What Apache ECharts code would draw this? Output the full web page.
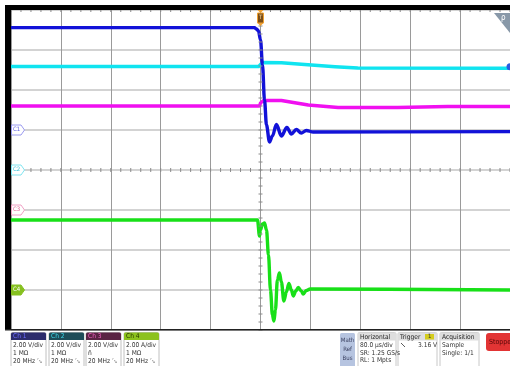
<!DOCTYPE html>
<html><head><meta charset="utf-8">
<script src="https://cdn.jsdelivr.net/npm/echarts@6/dist/echarts.min.js"></script>
<style>html,body{margin:0;padding:0;background:#fff;overflow:hidden}#c{width:510px;height:366px}</style>
</head><body><div id="c"></div>
<script>
// ---- data (time in µs, values in V or A) ----
const ch1Time  = [-400, -9.6, -6.4, -3.2, 0, 3.2, 6.4, 9.6, 14.4, 19.1, 25.5, 33.5, 42.3, 49.5, 57.4, 65.4, 73.4, 84.5, 400];
const ch1Volts = [5.12, 5.12, 5.05, 4.95, 4.5, 3.25, 1.5, 0.25, -0.6, -0.3, 0.275, -0.3, 0.125, -0.2, 0.025, -0.15, -0.025, -0.1, -0.08];

const ch2Time  = [-400, -3, 0, 3.2, 33.5, 65.4, 119.6, 156, 400];
const ch2Volts = [5.175, 5.175, 5.1, 5.375, 5.365, 5.285, 5.165, 5.1, 5.085];

const ch3Time  = [-400, -1.6, 0, 4.8, 33.5, 52.6, 76.6, 124.4, 220, 300, 400];
const ch3Volts = [5.2, 5.2, 5.35, 5.475, 5.475, 5.375, 5.25, 5.125, 5.125, 5.175, 5.175];

const ch4Time = [-400, -4.8, -1.6, 0, 3.2, 6.4, 9.6, 12.8, 16.0, 19.1, 21.5, 23.9, 27.1, 30.3, 33.5, 37.5, 41.5, 45.5, 49.5, 52.6, 56.6, 60.6, 65.4, 68.6, 73.4, 79.8, 400];
const ch4Amps = [3.5, 3.5, 2.7, 3.0, 3.3, 3.35, 3.0, 1.75, 0, -1.25, -1.55, -1.0, 0.5, 0.85, 0.4, -0.55, -0.1, 0.325, 0, -0.3, -0.05, 0.125, -0.05, -0.2, -0.025, 0.05, 0];

const channelNames   = ['Ch 1', 'Ch 2', 'Ch 3', 'Ch 4'];
const channelScales  = [2, 2, 2, 2];        // units per division
const channelOffsets = [1, 0, -1, -3];      // ground position, divisions
const channelUnits   = ['V/div', 'V/div', 'V/div', 'A/div'];
const channelImped   = ['1 MΩ', '1 MΩ', 'ñ', '1 MΩ'];
const channelBW      = ['20 MHz ␗', '20 MHz ␗', '20 MHz ␗', '20 MHz ␗'];
const timePerDiv = 80;  // µs
const horizontalText = ['80.0 µs/div', 'SR: 1.25 GS/s', 'RL: 1 Mpts'];
const triggerLevel = '3.16 V';
const acquisitionText = ['Sample', 'Single: 1/1'];

const colors = ['#1212d8', '#10e4f0', '#f010f0', '#18e018'];
const FONT = "'Liberation Sans Narrow','DejaVu Sans Condensed','Liberation Sans',sans-serif";

function toDiv(times, vals, i) {
  return times.map((t, k) => [t, channelOffsets[i] + vals[k] / channelScales[i]]);
}

const chart = echarts.init(document.getElementById('c'), null, {renderer: 'canvas'});
const series = [
  {i: 1, t: ch2Time, v: ch2Volts, sm: 0},
  {i: 2, t: ch3Time, v: ch3Volts, sm: 0},
  {i: 3, t: ch4Time, v: ch4Amps, sm: 0.35},
  {i: 0, t: ch1Time, v: ch1Volts, sm: 0.35}
].map(s => ({
  type: 'line', name: channelNames[s.i], data: toDiv(s.t, s.v, s.i),
  showSymbol: false, symbol: 'none', animation: false,
  smooth: s.sm, smoothMonotone: 'x',
  lineStyle: {color: colors[s.i], width: 3.4, join: 'round'}
}));

chart.setOption({
  animation: false,
  grid: {left: 11, top: 10, width: 502, height: 320},
  xAxis: {type: 'value', min: -5 * timePerDiv, max: 5 * timePerDiv, interval: timePerDiv,
    axisLine: {show: false}, axisTick: {show: false}, axisLabel: {show: false},
    splitLine: {show: true, lineStyle: {color: '#9a9a9a', width: 1}}},
  yAxis: {type: 'value', min: -4, max: 4, interval: 1,
    axisLine: {show: false}, axisTick: {show: false}, axisLabel: {show: false},
    splitLine: {show: true, lineStyle: {color: '#c4c4c4', width: 1.6}}},
  series: series
});

// ---- decorations ----
const px = (t, d) => chart.convertToPixel({gridIndex: 0}, [t, d]);
const g = [];
// minor ticks on centre lines and top edge
for (let k = -25; k <= 25; k++) {
  const p = px(k * timePerDiv / 5, 0);
  g.push({type: 'line', shape: {x1: p[0], y1: p[1] - 2, x2: p[0], y2: p[1] + 2}, style: {stroke: '#8a8a8a', lineWidth: 1}, z: 5});
  const q = px(k * timePerDiv / 5, 4);
  g.push({type: 'line', shape: {x1: q[0], y1: q[1], x2: q[0], y2: q[1] + 2}, style: {stroke: '#8a8a8a', lineWidth: 1}, z: 5});
}
for (let k = -20; k <= 20; k++) {
  const p = px(0, k / 5);
  g.push({type: 'line', shape: {x1: p[0] - 2, y1: p[1], x2: p[0] + 2, y2: p[1]}, style: {stroke: '#8a8a8a', lineWidth: 1}, z: 5});
}
// frame
g.push({type: 'rect', shape: {x: 5, y: 5, width: 505, height: 5}, style: {fill: '#000'}, z: 20});
g.push({type: 'rect', shape: {x: 5, y: 5, width: 6, height: 325}, style: {fill: '#000'}, z: 20});
g.push({type: 'rect', shape: {x: 5, y: 329, width: 505, height: 1.5}, style: {fill: '#222'}, z: 20});

// channel ground markers
const tagStyles = [
  {fill: '#fff', stroke: '#9a9af0', text: '#5a5ae0'},
  {fill: '#fff', stroke: '#80e4f0', text: '#30c0d8'},
  {fill: '#fff', stroke: '#f0a0c4', text: '#e06090'},
  {fill: '#86c020', stroke: '#86c020', text: '#fff'}
];
channelOffsets.forEach((off, i) => {
  const y = px(0, off)[1];
  const s = tagStyles[i];
  g.push({type: 'polygon', shape: {points: [[11.5, y - 5], [21, y - 5], [24.5, y], [21, y + 5], [11.5, y + 5]]},
    style: {fill: s.fill, stroke: s.stroke, lineWidth: 1}, z: 21});
  g.push({type: 'text', x: 13, y: y - 3.5, style: {text: 'C' + (i + 1), fill: s.text, font: '6px ' + FONT}, z: 22});
});

// trigger position marker
const tx = px(0, 0)[0];
g.push({type: 'polygon', shape: {points: [[tx - 3, 10], [tx + 3, 10], [tx, 13]]}, style: {fill: '#f0a030'}, z: 21});
g.push({type: 'rect', shape: {x: tx - 3, y: 13, width: 6, height: 10}, style: {fill: '#7a4e18', stroke: '#f0a030', lineWidth: 1}, z: 21});
g.push({type: 'text', x: tx - 1.6, y: 14.5, style: {text: 'T', fill: '#f8d8a0', font: '6px ' + FONT}, z: 22});
g.push({type: 'polygon', shape: {points: [[tx - 3, 23], [tx + 3, 23], [tx, 26]]}, style: {fill: '#f0a030'}, z: 21});

// top-right corner triangle
g.push({type: 'polygon', shape: {points: [[494, 13], [510, 13], [510, 33]]}, style: {fill: '#8898a8'}, z: 21});
g.push({type: 'text', x: 501, y: 14, style: {text: 'ρ', fill: '#fff', font: '8px ' + FONT}, z: 22});
// right-edge level marker
g.push({type: 'circle', shape: {cx: 510, cy: px(0, 2.58)[1], r: 3.5}, style: {fill: '#2a5ae0'}, z: 21});

// ---- bottom readout panel ----
const chBoxes = [[11, 46], [49, 84], [86, 121], [124, 159]];
const headFill = ['#2c2c6c', '#1e4c58', '#5a2444', '#8cc21e'];
const headText = ['#6c6cff', '#3ed8ea', '#f060c0', '#2a3a00'];
const f7 = '6.6px ' + FONT;
chBoxes.forEach((b, i) => {
  g.push({type: 'rect', shape: {x: b[0], y: 332.5, width: b[1] - b[0], height: 40, r: 1.5}, style: {fill: '#fff', stroke: '#c0c0c0', lineWidth: 1}, z: 20});
  g.push({type: 'rect', shape: {x: b[0], y: 332.5, width: b[1] - b[0], height: 7.5, r: [1.5, 1.5, 0, 0]}, style: {fill: headFill[i]}, z: 21});
  g.push({type: 'text', x: b[0] + 2, y: 333.2, style: {text: channelNames[i], fill: headText[i], font: f7}, z: 22});
  g.push({type: 'text', x: b[0] + 2, y: 341.5, style: {text: channelScales[i].toFixed(2) + ' ' + channelUnits[i], fill: '#333', font: f7}, z: 22});
  g.push({type: 'text', x: b[0] + 2, y: 349.5, style: {text: channelImped[i], fill: '#333', font: f7}, z: 22});
  g.push({type: 'text', x: b[0] + 2, y: 357.5, style: {text: channelBW[i], fill: '#333', font: f7}, z: 22});
});
// Math Ref Bus
g.push({type: 'rect', shape: {x: 340, y: 333, width: 15, height: 40, r: 1.5}, style: {fill: '#b6c4e0'}, z: 20});
['Math', 'Ref', 'Bus'].forEach((t, k) => {
  g.push({type: 'text', x: 347.5, y: 337 + k * 9, style: {text: t, fill: '#3a4060', font: '6px ' + FONT, align: 'center'}, z: 22});
});
function infoBox(x0, x1, title, lines) {
  g.push({type: 'rect', shape: {x: x0, y: 332.5, width: x1 - x0, height: 40, r: 1.5}, style: {fill: '#fff', stroke: '#c8c8c8', lineWidth: 1}, z: 20});
  g.push({type: 'rect', shape: {x: x0, y: 332.5, width: x1 - x0, height: 8, r: [1.5, 1.5, 0, 0]}, style: {fill: '#dedede'}, z: 21});
  g.push({type: 'text', x: x0 + 2, y: 333.5, style: {text: title, fill: '#222', font: f7}, z: 22});
  lines.forEach((t, k) => g.push({type: 'text', x: x0 + 2, y: 342 + k * 7.6, style: {text: t, fill: '#333', font: f7}, z: 22}));
}
infoBox(358, 396, 'Horizontal', horizontalText);
infoBox(398, 437, 'Trigger', []);
g.push({type: 'rect', shape: {x: 425, y: 334, width: 9, height: 5.5}, style: {fill: '#d4cc1c'}, z: 22});
g.push({type: 'text', x: 428, y: 333.8, style: {text: '1', fill: '#333', font: '6px ' + FONT}, z: 23});
g.push({type: 'line', shape: {x1: 401, y1: 343, x2: 405, y2: 347}, style: {stroke: '#333', lineWidth: 0.8}, z: 22});
g.push({type: 'text', x: 418, y: 342, style: {text: triggerLevel, fill: '#333', font: f7}, z: 22});
infoBox(440, 479, 'Acquisition', acquisitionText);
g.push({type: 'rect', shape: {x: 486, y: 333, width: 30, height: 18, r: 3}, style: {fill: '#e23434'}, z: 20});
g.push({type: 'text', x: 489, y: 338.5, style: {text: 'Stopped', fill: '#5a0808', font: '7px ' + FONT}, z: 22});

chart.setOption({graphic: g});
</script>
</body></html>
